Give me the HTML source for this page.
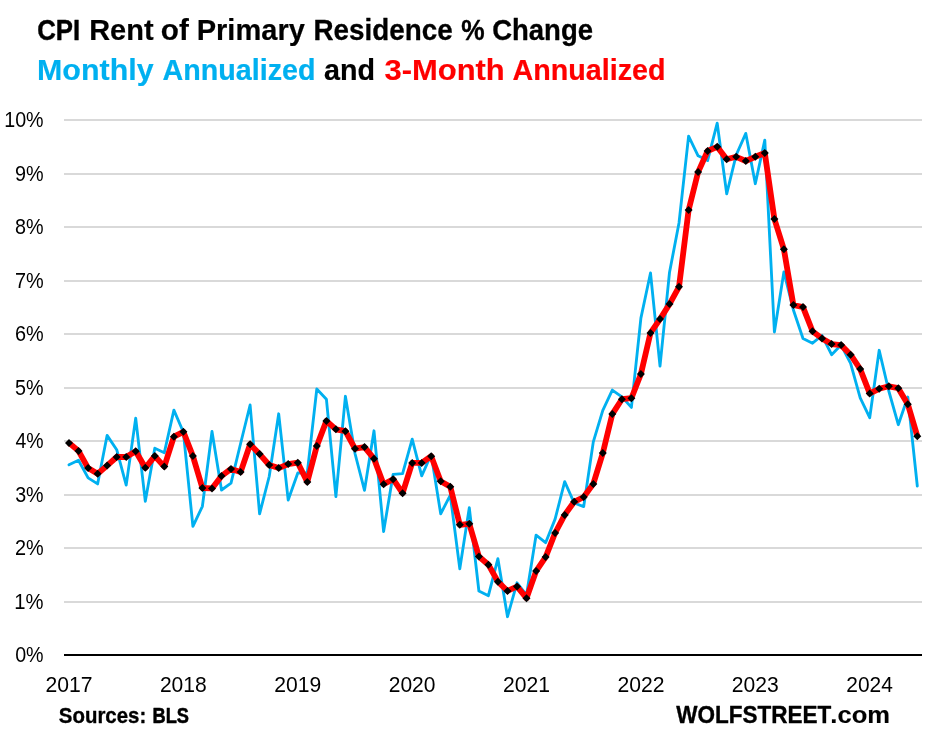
<!DOCTYPE html>
<html lang="en"><head><meta charset="utf-8"><title>CPI Rent of Primary Residence % Change</title>
<style>html,body{margin:0;padding:0;background:#fff;}body{width:931px;height:730px;overflow:hidden;}svg{display:block;}text{font-family:"Liberation Sans",sans-serif;font-kerning:none;}</style></head><body>
<svg width="931" height="730" viewBox="0 0 931 730">
<rect width="931" height="730" fill="#fff"/>
<line x1="64" x2="922" y1="602.0" y2="602.0" stroke="#d9d9d9" stroke-width="2.0"/>
<line x1="64" x2="922" y1="548.0" y2="548.0" stroke="#d9d9d9" stroke-width="2.0"/>
<line x1="64" x2="922" y1="495.0" y2="495.0" stroke="#d9d9d9" stroke-width="2.0"/>
<line x1="64" x2="922" y1="441.0" y2="441.0" stroke="#d9d9d9" stroke-width="2.0"/>
<line x1="64" x2="922" y1="388.0" y2="388.0" stroke="#d9d9d9" stroke-width="2.0"/>
<line x1="64" x2="922" y1="334.0" y2="334.0" stroke="#d9d9d9" stroke-width="2.0"/>
<line x1="64" x2="922" y1="281.0" y2="281.0" stroke="#d9d9d9" stroke-width="2.0"/>
<line x1="64" x2="922" y1="227.0" y2="227.0" stroke="#d9d9d9" stroke-width="2.0"/>
<line x1="64" x2="922" y1="174.0" y2="174.0" stroke="#d9d9d9" stroke-width="2.0"/>
<line x1="64" x2="922" y1="120.0" y2="120.0" stroke="#d9d9d9" stroke-width="2.0"/>
<text x="15.13" y="661.8" font-size="21.2" font-weight="400" fill="#000" textLength="28.47" lengthAdjust="spacingAndGlyphs">0%</text>
<text x="14.36" y="608.8" font-size="21.2" font-weight="400" fill="#000" textLength="29.26" lengthAdjust="spacingAndGlyphs">1%</text>
<text x="14.90" y="554.8" font-size="21.2" font-weight="400" fill="#000" textLength="28.71" lengthAdjust="spacingAndGlyphs">2%</text>
<text x="15.15" y="501.8" font-size="21.2" font-weight="400" fill="#000" textLength="28.45" lengthAdjust="spacingAndGlyphs">3%</text>
<text x="15.45" y="447.8" font-size="21.2" font-weight="400" fill="#000" textLength="28.14" lengthAdjust="spacingAndGlyphs">4%</text>
<text x="15.11" y="394.8" font-size="21.2" font-weight="400" fill="#000" textLength="28.49" lengthAdjust="spacingAndGlyphs">5%</text>
<text x="14.89" y="340.8" font-size="21.2" font-weight="400" fill="#000" textLength="28.72" lengthAdjust="spacingAndGlyphs">6%</text>
<text x="14.88" y="287.8" font-size="21.2" font-weight="400" fill="#000" textLength="28.73" lengthAdjust="spacingAndGlyphs">7%</text>
<text x="15.04" y="233.8" font-size="21.2" font-weight="400" fill="#000" textLength="28.56" lengthAdjust="spacingAndGlyphs">8%</text>
<text x="14.97" y="180.8" font-size="21.2" font-weight="400" fill="#000" textLength="28.63" lengthAdjust="spacingAndGlyphs">9%</text>
<text x="4.20" y="126.8" font-size="21.2" font-weight="400" fill="#000" textLength="39.40" lengthAdjust="spacingAndGlyphs">10%</text>
<polyline fill="none" stroke="#00b0f0" stroke-width="2.85" stroke-linejoin="round" stroke-linecap="round" points="69.0,464.8 78.5,460.3 88.1,477.9 97.6,483.9 107.1,435.4 116.7,449.7 126.2,485.1 135.7,418.1 145.3,501.3 154.8,448.2 164.3,452.7 173.9,410.1 183.4,432.3 192.9,526.4 202.4,506.3 212.0,431.5 221.5,490.0 231.0,483.2 240.6,443.5 250.1,405.0 259.6,513.9 269.2,476.5 278.7,413.8 288.2,500.1 297.8,473.0 307.3,472.6 316.8,389.0 326.4,399.2 335.9,496.6 345.4,396.3 355.0,453.5 364.5,490.3 374.0,430.8 383.6,531.5 393.1,474.4 402.6,473.6 412.2,439.1 421.7,475.9 431.2,454.5 440.7,513.8 450.3,495.2 459.8,568.8 469.3,507.7 478.9,591.0 488.4,595.7 497.9,558.7 507.5,616.7 517.0,582.8 526.5,595.0 536.1,535.1 545.6,542.7 555.1,519.1 564.7,481.6 574.2,503.0 583.7,506.6 593.3,441.9 602.8,410.3 612.3,390.1 621.9,396.9 631.4,407.4 640.9,318.1 650.5,273.0 660.0,366.1 669.5,272.5 679.0,223.0 688.6,136.1 698.1,155.8 707.6,160.6 717.2,123.2 726.7,193.8 736.2,155.0 745.8,133.4 755.3,183.7 764.8,140.1 774.4,332.0 783.9,271.9 793.4,310.0 803.0,338.5 812.5,343.2 822.0,335.5 831.6,354.7 841.1,345.0 850.6,363.3 860.2,397.8 869.7,417.7 879.2,350.3 888.8,391.0 898.3,424.7 907.8,397.0 917.3,486.0"/>
<polyline fill="none" stroke="#ff0000" stroke-width="5.8" stroke-linejoin="round" stroke-linecap="butt" points="69.0,442.9 78.5,450.9 88.1,468.1 97.6,473.8 107.1,465.6 116.7,457.0 126.2,457.0 135.7,451.2 145.3,467.8 154.8,456.1 164.3,466.6 173.9,436.7 183.4,431.8 192.9,456.1 202.4,488.0 212.0,488.4 221.5,476.0 231.0,468.9 240.6,472.1 250.1,444.3 259.6,454.1 269.2,465.0 278.7,468.1 288.2,464.1 297.8,462.7 307.3,482.0 316.8,446.1 326.4,420.9 335.9,429.3 345.4,431.2 355.0,448.7 364.5,447.1 374.0,458.7 383.6,484.2 393.1,479.2 402.6,493.2 412.2,462.9 421.7,462.9 431.2,456.2 440.7,481.3 450.3,486.7 459.8,524.8 469.3,523.8 478.9,556.5 488.4,564.7 497.9,581.7 507.5,591.0 517.0,586.5 526.5,598.2 536.1,571.1 545.6,557.1 555.1,533.0 564.7,514.9 574.2,501.8 583.7,497.0 593.3,483.9 602.8,453.1 612.3,414.1 621.9,399.2 631.4,398.2 640.9,374.0 650.5,332.9 660.0,319.1 669.5,304.1 679.0,286.8 688.6,210.1 698.1,172.1 707.6,151.0 717.2,146.8 726.7,159.3 736.2,156.8 745.8,161.0 755.3,156.8 764.8,153.0 774.4,219.0 783.9,249.3 793.4,305.0 803.0,307.1 812.5,331.2 822.0,338.5 831.6,344.1 841.1,345.1 850.6,354.7 860.2,369.1 869.7,393.4 879.2,388.8 888.8,386.3 898.3,388.2 907.8,404.2 917.3,436.2"/>
<path fill="#000" d="M69.0,438.9l4.0,4.0l-4.0,4.0l-4.0,-4.0zM78.5,446.9l4.0,4.0l-4.0,4.0l-4.0,-4.0zM88.1,464.1l4.0,4.0l-4.0,4.0l-4.0,-4.0zM97.6,469.8l4.0,4.0l-4.0,4.0l-4.0,-4.0zM107.1,461.6l4.0,4.0l-4.0,4.0l-4.0,-4.0zM116.7,453.0l4.0,4.0l-4.0,4.0l-4.0,-4.0zM126.2,453.0l4.0,4.0l-4.0,4.0l-4.0,-4.0zM135.7,447.2l4.0,4.0l-4.0,4.0l-4.0,-4.0zM145.3,463.8l4.0,4.0l-4.0,4.0l-4.0,-4.0zM154.8,452.1l4.0,4.0l-4.0,4.0l-4.0,-4.0zM164.3,462.6l4.0,4.0l-4.0,4.0l-4.0,-4.0zM173.9,432.7l4.0,4.0l-4.0,4.0l-4.0,-4.0zM183.4,427.8l4.0,4.0l-4.0,4.0l-4.0,-4.0zM192.9,452.1l4.0,4.0l-4.0,4.0l-4.0,-4.0zM202.4,484.0l4.0,4.0l-4.0,4.0l-4.0,-4.0zM212.0,484.4l4.0,4.0l-4.0,4.0l-4.0,-4.0zM221.5,472.0l4.0,4.0l-4.0,4.0l-4.0,-4.0zM231.0,464.9l4.0,4.0l-4.0,4.0l-4.0,-4.0zM240.6,468.1l4.0,4.0l-4.0,4.0l-4.0,-4.0zM250.1,440.3l4.0,4.0l-4.0,4.0l-4.0,-4.0zM259.6,450.1l4.0,4.0l-4.0,4.0l-4.0,-4.0zM269.2,461.0l4.0,4.0l-4.0,4.0l-4.0,-4.0zM278.7,464.1l4.0,4.0l-4.0,4.0l-4.0,-4.0zM288.2,460.1l4.0,4.0l-4.0,4.0l-4.0,-4.0zM297.8,458.7l4.0,4.0l-4.0,4.0l-4.0,-4.0zM307.3,478.0l4.0,4.0l-4.0,4.0l-4.0,-4.0zM316.8,442.1l4.0,4.0l-4.0,4.0l-4.0,-4.0zM326.4,416.9l4.0,4.0l-4.0,4.0l-4.0,-4.0zM335.9,425.3l4.0,4.0l-4.0,4.0l-4.0,-4.0zM345.4,427.2l4.0,4.0l-4.0,4.0l-4.0,-4.0zM355.0,444.7l4.0,4.0l-4.0,4.0l-4.0,-4.0zM364.5,443.1l4.0,4.0l-4.0,4.0l-4.0,-4.0zM374.0,454.7l4.0,4.0l-4.0,4.0l-4.0,-4.0zM383.6,480.2l4.0,4.0l-4.0,4.0l-4.0,-4.0zM393.1,475.2l4.0,4.0l-4.0,4.0l-4.0,-4.0zM402.6,489.2l4.0,4.0l-4.0,4.0l-4.0,-4.0zM412.2,458.9l4.0,4.0l-4.0,4.0l-4.0,-4.0zM421.7,458.9l4.0,4.0l-4.0,4.0l-4.0,-4.0zM431.2,452.2l4.0,4.0l-4.0,4.0l-4.0,-4.0zM440.7,477.3l4.0,4.0l-4.0,4.0l-4.0,-4.0zM450.3,482.7l4.0,4.0l-4.0,4.0l-4.0,-4.0zM459.8,520.8l4.0,4.0l-4.0,4.0l-4.0,-4.0zM469.3,519.8l4.0,4.0l-4.0,4.0l-4.0,-4.0zM478.9,552.5l4.0,4.0l-4.0,4.0l-4.0,-4.0zM488.4,560.7l4.0,4.0l-4.0,4.0l-4.0,-4.0zM497.9,577.7l4.0,4.0l-4.0,4.0l-4.0,-4.0zM507.5,587.0l4.0,4.0l-4.0,4.0l-4.0,-4.0zM517.0,582.5l4.0,4.0l-4.0,4.0l-4.0,-4.0zM526.5,594.2l4.0,4.0l-4.0,4.0l-4.0,-4.0zM536.1,567.1l4.0,4.0l-4.0,4.0l-4.0,-4.0zM545.6,553.1l4.0,4.0l-4.0,4.0l-4.0,-4.0zM555.1,529.0l4.0,4.0l-4.0,4.0l-4.0,-4.0zM564.7,510.9l4.0,4.0l-4.0,4.0l-4.0,-4.0zM574.2,497.8l4.0,4.0l-4.0,4.0l-4.0,-4.0zM583.7,493.0l4.0,4.0l-4.0,4.0l-4.0,-4.0zM593.3,479.9l4.0,4.0l-4.0,4.0l-4.0,-4.0zM602.8,449.1l4.0,4.0l-4.0,4.0l-4.0,-4.0zM612.3,410.1l4.0,4.0l-4.0,4.0l-4.0,-4.0zM621.9,395.2l4.0,4.0l-4.0,4.0l-4.0,-4.0zM631.4,394.2l4.0,4.0l-4.0,4.0l-4.0,-4.0zM640.9,370.0l4.0,4.0l-4.0,4.0l-4.0,-4.0zM650.5,328.9l4.0,4.0l-4.0,4.0l-4.0,-4.0zM660.0,315.1l4.0,4.0l-4.0,4.0l-4.0,-4.0zM669.5,300.1l4.0,4.0l-4.0,4.0l-4.0,-4.0zM679.0,282.8l4.0,4.0l-4.0,4.0l-4.0,-4.0zM688.6,206.1l4.0,4.0l-4.0,4.0l-4.0,-4.0zM698.1,168.1l4.0,4.0l-4.0,4.0l-4.0,-4.0zM707.6,147.0l4.0,4.0l-4.0,4.0l-4.0,-4.0zM717.2,142.8l4.0,4.0l-4.0,4.0l-4.0,-4.0zM726.7,155.3l4.0,4.0l-4.0,4.0l-4.0,-4.0zM736.2,152.8l4.0,4.0l-4.0,4.0l-4.0,-4.0zM745.8,157.0l4.0,4.0l-4.0,4.0l-4.0,-4.0zM755.3,152.8l4.0,4.0l-4.0,4.0l-4.0,-4.0zM764.8,149.0l4.0,4.0l-4.0,4.0l-4.0,-4.0zM774.4,215.0l4.0,4.0l-4.0,4.0l-4.0,-4.0zM783.9,245.3l4.0,4.0l-4.0,4.0l-4.0,-4.0zM793.4,301.0l4.0,4.0l-4.0,4.0l-4.0,-4.0zM803.0,303.1l4.0,4.0l-4.0,4.0l-4.0,-4.0zM812.5,327.2l4.0,4.0l-4.0,4.0l-4.0,-4.0zM822.0,334.5l4.0,4.0l-4.0,4.0l-4.0,-4.0zM831.6,340.1l4.0,4.0l-4.0,4.0l-4.0,-4.0zM841.1,341.1l4.0,4.0l-4.0,4.0l-4.0,-4.0zM850.6,350.7l4.0,4.0l-4.0,4.0l-4.0,-4.0zM860.2,365.1l4.0,4.0l-4.0,4.0l-4.0,-4.0zM869.7,389.4l4.0,4.0l-4.0,4.0l-4.0,-4.0zM879.2,384.8l4.0,4.0l-4.0,4.0l-4.0,-4.0zM888.8,382.3l4.0,4.0l-4.0,4.0l-4.0,-4.0zM898.3,384.2l4.0,4.0l-4.0,4.0l-4.0,-4.0zM907.8,400.2l4.0,4.0l-4.0,4.0l-4.0,-4.0zM917.3,432.2l4.0,4.0l-4.0,4.0l-4.0,-4.0z"/>
<line x1="64" x2="922" y1="655" y2="655" stroke="#000" stroke-width="2.0"/>
<text x="45.54" y="691.9" font-size="21.2" font-weight="400" fill="#000" textLength="47.03" lengthAdjust="spacingAndGlyphs">2017</text>
<text x="159.92" y="691.9" font-size="21.2" font-weight="400" fill="#000" textLength="46.88" lengthAdjust="spacingAndGlyphs">2018</text>
<text x="274.31" y="691.9" font-size="21.2" font-weight="400" fill="#000" textLength="46.96" lengthAdjust="spacingAndGlyphs">2019</text>
<text x="388.69" y="691.9" font-size="21.2" font-weight="400" fill="#000" textLength="46.78" lengthAdjust="spacingAndGlyphs">2020</text>
<text x="503.07" y="691.9" font-size="21.2" font-weight="400" fill="#000" textLength="46.99" lengthAdjust="spacingAndGlyphs">2021</text>
<text x="617.46" y="691.9" font-size="21.2" font-weight="400" fill="#000" textLength="47.03" lengthAdjust="spacingAndGlyphs">2022</text>
<text x="731.84" y="691.9" font-size="21.2" font-weight="400" fill="#000" textLength="46.89" lengthAdjust="spacingAndGlyphs">2023</text>
<text x="846.24" y="691.9" font-size="21.2" font-weight="400" fill="#000" textLength="46.57" lengthAdjust="spacingAndGlyphs">2024</text>
<text x="37.27" y="39.5" font-size="29.5" font-weight="700" fill="#000" stroke="#000" stroke-width="0.44" stroke-linejoin="round" textLength="42.94" lengthAdjust="spacingAndGlyphs">CPI</text>
<text x="89.15" y="39.5" font-size="29.5" font-weight="700" fill="#000" stroke="#000" stroke-width="0.19" stroke-linejoin="round" textLength="64.41" lengthAdjust="spacingAndGlyphs">Rent</text>
<text x="160.82" y="39.5" font-size="29.5" font-weight="700" fill="#000" stroke="#000" stroke-width="0.15" stroke-linejoin="round" textLength="27.95" lengthAdjust="spacingAndGlyphs">of</text>
<text x="196.65" y="39.5" font-size="29.5" font-weight="700" fill="#000" stroke="#000" stroke-width="0.18" stroke-linejoin="round" textLength="108.22" lengthAdjust="spacingAndGlyphs">Primary</text>
<text x="313.48" y="39.5" font-size="29.5" font-weight="700" fill="#000" stroke="#000" stroke-width="0.29" stroke-linejoin="round" textLength="139.23" lengthAdjust="spacingAndGlyphs">Residence</text>
<text x="461.14" y="39.5" font-size="29.5" font-weight="700" fill="#000" stroke="#000" stroke-width="0.38" stroke-linejoin="round" textLength="23.36" lengthAdjust="spacingAndGlyphs">%</text>
<text x="492.13" y="39.5" font-size="29.5" font-weight="700" fill="#000" stroke="#000" stroke-width="0.31" stroke-linejoin="round" textLength="100.86" lengthAdjust="spacingAndGlyphs">Change</text>
<text x="37.04" y="79.5" font-size="29.5" font-weight="700" fill="#00b0f0" stroke="#00b0f0" stroke-width="0.15" stroke-linejoin="round" textLength="116.55" lengthAdjust="spacingAndGlyphs">Monthly</text>
<text x="162.59" y="79.5" font-size="29.5" font-weight="700" fill="#00b0f0" stroke="#00b0f0" stroke-width="0.22" stroke-linejoin="round" textLength="152.99" lengthAdjust="spacingAndGlyphs">Annualized</text>
<text x="324.06" y="79.5" font-size="29.5" font-weight="700" fill="#000" stroke="#000" stroke-width="0.21" stroke-linejoin="round" textLength="51.03" lengthAdjust="spacingAndGlyphs">and</text>
<text x="384.46" y="79.5" font-size="29.5" font-weight="700" fill="#ff0000" stroke="#ff0000" stroke-width="0.15" stroke-linejoin="round" textLength="120.28" lengthAdjust="spacingAndGlyphs">3-Month</text>
<text x="512.59" y="79.5" font-size="29.5" font-weight="700" fill="#ff0000" stroke="#ff0000" stroke-width="0.22" stroke-linejoin="round" textLength="152.99" lengthAdjust="spacingAndGlyphs">Annualized</text>
<text x="58.87" y="723.2" font-size="22.0" font-weight="700" fill="#000" stroke="#000" stroke-width="0.32" stroke-linejoin="round" textLength="87.33" lengthAdjust="spacingAndGlyphs">Sources:</text>
<text x="152.55" y="723.2" font-size="22.0" font-weight="700" fill="#000" stroke="#000" stroke-width="0.54" stroke-linejoin="round" textLength="36.49" lengthAdjust="spacingAndGlyphs">BLS</text>
<text x="676.26" y="723.3" font-size="24.7" font-weight="700" fill="#000" stroke="#000" stroke-width="0.37" stroke-linejoin="round" textLength="155.10" lengthAdjust="spacingAndGlyphs">WOLFSTREET</text>
<text x="830.34" y="723.3" font-size="24.7" font-weight="700" fill="#000" stroke="#000" stroke-width="0.15" stroke-linejoin="round" textLength="59.67" lengthAdjust="spacingAndGlyphs">.com</text>
</svg></body></html>
